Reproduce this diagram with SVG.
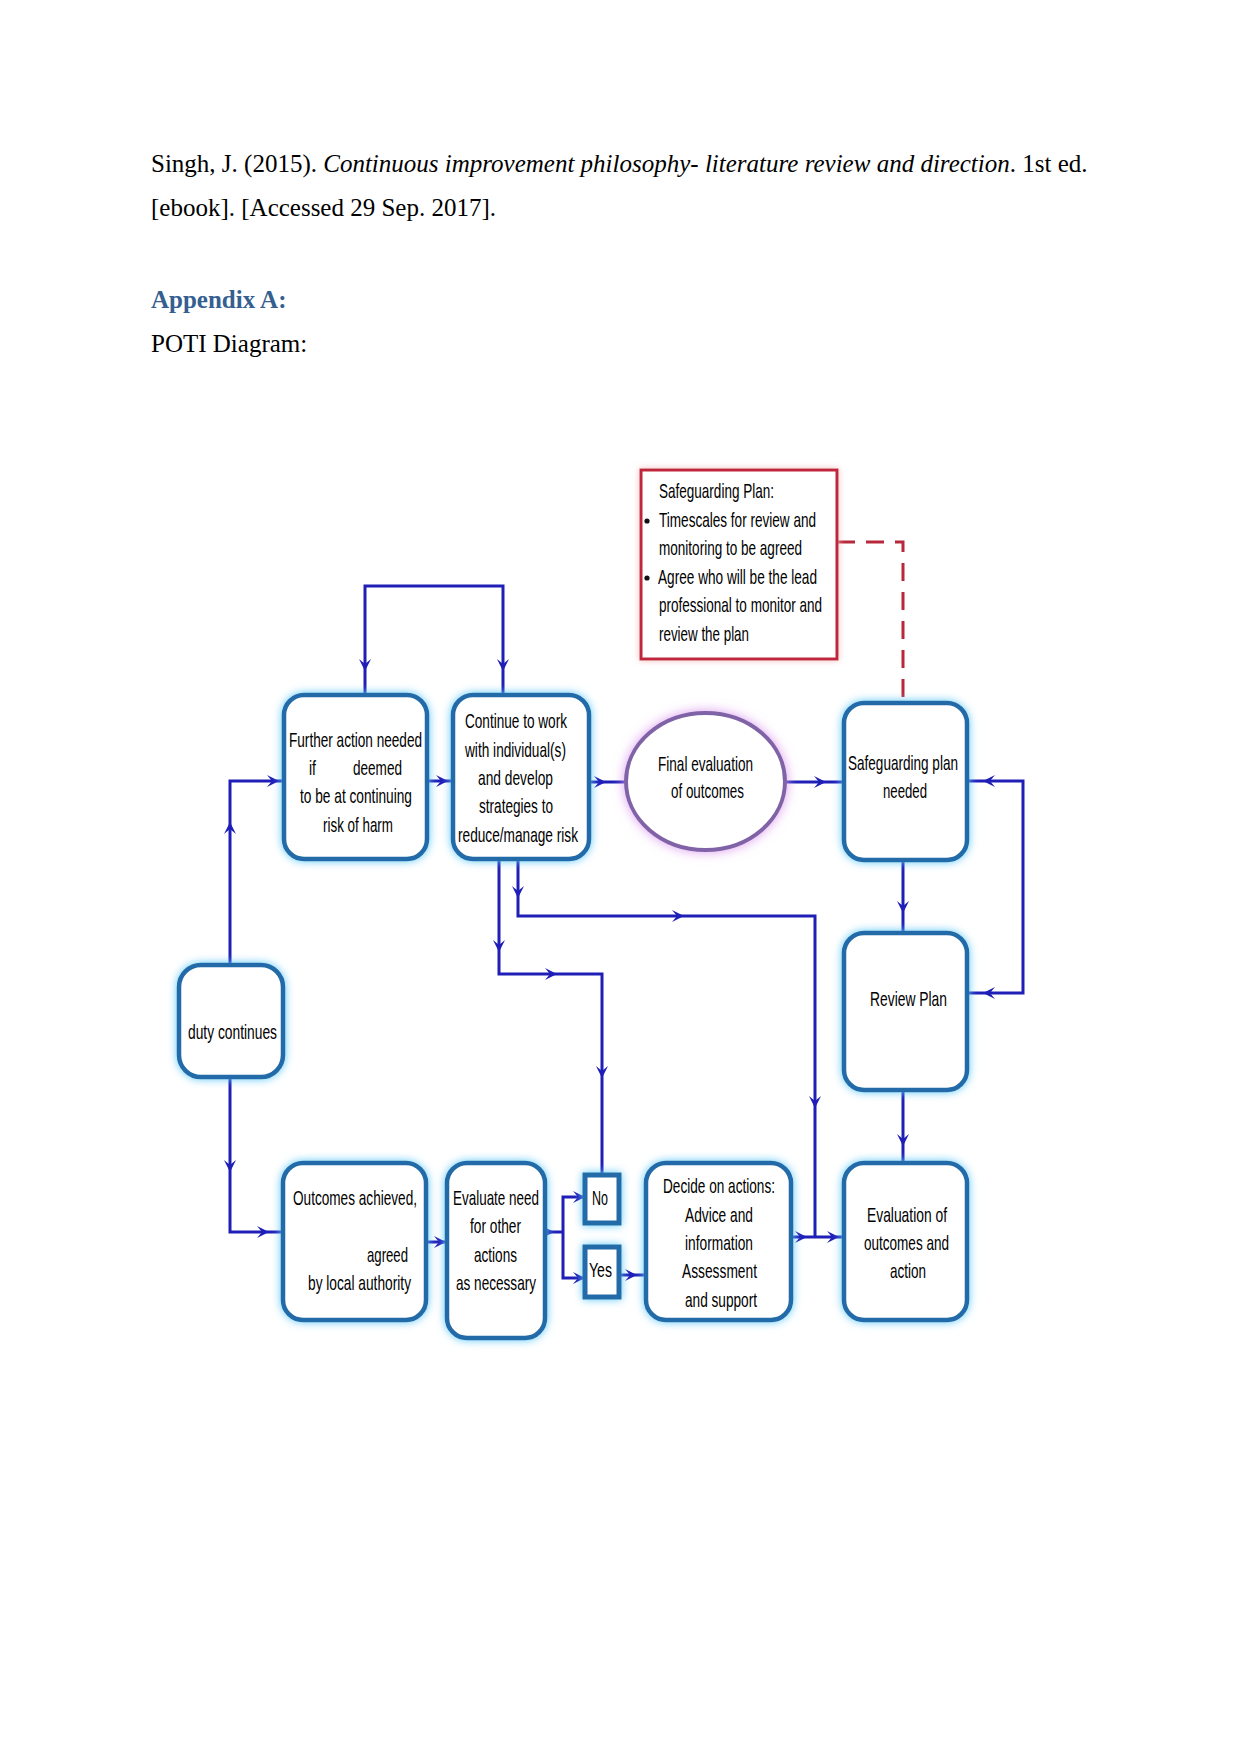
<svg xmlns="http://www.w3.org/2000/svg" xmlns:xlink="http://www.w3.org/1999/xlink" width="1241" height="1754" viewBox="0 0 1241 1754">
<style>
.doc{font-family:"Liberation Serif","Times New Roman",serif;font-size:25px;fill:#000}
.hd{font-family:"Liberation Serif","Times New Roman",serif;font-size:25px;font-weight:bold;fill:#365f91}
.t{font-family:"Liberation Sans",Arial,sans-serif;font-size:21px;fill:#000}
.box{fill:#fff;stroke:#206aa8;stroke-width:4.5}
.sq{fill:#fff;stroke:#206aa8;stroke-width:5}
.ln{fill:none;stroke:#1f1fb8;stroke-width:3}
.ah{fill:#1f1fb8}
</style>
<defs>
<filter id="glow" x="-30%" y="-30%" width="160%" height="160%">
<feGaussianBlur in="SourceAlpha" stdDeviation="4" result="b"/>
<feFlood flood-color="#5cc8f8" result="c"/>
<feComposite in="c" in2="b" operator="in" result="g"/>
<feMerge><feMergeNode in="g"/><feMergeNode in="SourceGraphic"/></feMerge>
</filter>
<filter id="pglow" x="-30%" y="-30%" width="160%" height="160%">
<feGaussianBlur in="SourceAlpha" stdDeviation="6" result="b"/>
<feFlood flood-color="#dc9cf0" result="c"/>
<feComposite in="c" in2="b" operator="in" result="g"/>
<feMerge><feMergeNode in="g"/><feMergeNode in="SourceGraphic"/></feMerge>
</filter>
<filter id="rglow" x="-20%" y="-20%" width="140%" height="140%">
<feGaussianBlur in="SourceAlpha" stdDeviation="3" result="b"/>
<feFlood flood-color="#f4b8bc" result="c"/>
<feComposite in="c" in2="b" operator="in" result="g"/>
<feMerge><feMergeNode in="g"/><feMergeNode in="SourceGraphic"/></feMerge>
</filter>
<path id="ah" class="ah" d="M0,0 L-12,-6 L-7,0 L-12,6 Z"/>
</defs>
<rect width="1241" height="1754" fill="#fff"/>

<g id="document-text">
<text class="doc" x="151" y="172">Singh, J. (2015). <tspan font-style="italic">Continuous improvement philosophy- literature review and direction</tspan>. 1st ed.</text>
<text class="doc" x="151" y="216">[ebook]. [Accessed 29 Sep. 2017].</text>
<text class="hd" x="151" y="308">Appendix A:</text>
<text class="doc" x="151" y="352">POTI Diagram:</text>
</g>

<g id="connectors">
<path class="ln" d="M365,695 V586 H503 V695"/>
<use xlink:href="#ah" href="#ah" transform="translate(365,671) rotate(90)"/>
<use xlink:href="#ah" href="#ah" transform="translate(503,671) rotate(90)"/>
<path class="ln" d="M427,781 H453"/>
<use xlink:href="#ah" href="#ah" transform="translate(448,781)"/>
<path class="ln" d="M589,782 H626"/>
<use xlink:href="#ah" href="#ah" transform="translate(606,782)"/>
<path class="ln" d="M785,782 H844"/>
<use xlink:href="#ah" href="#ah" transform="translate(826,782)"/>
<path class="ln" d="M967,781 H1023 V993 H967"/>
<use xlink:href="#ah" href="#ah" transform="translate(983,781) rotate(180)"/>
<use xlink:href="#ah" href="#ah" transform="translate(983,993) rotate(180)"/>
<path class="ln" d="M903,860 V933"/>
<use xlink:href="#ah" href="#ah" transform="translate(903,913) rotate(90)"/>
<path class="ln" d="M903,1090 V1163"/>
<use xlink:href="#ah" href="#ah" transform="translate(903,1146) rotate(90)"/>
<path class="ln" d="M518,859 V916 H815 V1237"/>
<use xlink:href="#ah" href="#ah" transform="translate(518,898) rotate(90)"/>
<use xlink:href="#ah" href="#ah" transform="translate(684,916)"/>
<use xlink:href="#ah" href="#ah" transform="translate(815,1108) rotate(90)"/>
<path class="ln" d="M499,859 V974 H602 V1175"/>
<use xlink:href="#ah" href="#ah" transform="translate(499,952) rotate(90)"/>
<use xlink:href="#ah" href="#ah" transform="translate(557,974)"/>
<use xlink:href="#ah" href="#ah" transform="translate(602,1078) rotate(90)"/>
<path class="ln" d="M791,1237 H843"/>
<use xlink:href="#ah" href="#ah" transform="translate(807,1237)"/>
<use xlink:href="#ah" href="#ah" transform="translate(839,1237)"/>
<path class="ln" d="M230,965 V781 H284"/>
<use xlink:href="#ah" href="#ah" transform="translate(230,822) rotate(-90)"/>
<use xlink:href="#ah" href="#ah" transform="translate(279,781)"/>
<path class="ln" d="M230,1077 V1232 H283"/>
<use xlink:href="#ah" href="#ah" transform="translate(230,1172) rotate(90)"/>
<use xlink:href="#ah" href="#ah" transform="translate(269,1232)"/>
<path class="ln" d="M426,1242 H447"/>
<use xlink:href="#ah" href="#ah" transform="translate(446,1242)"/>
<path class="ln" d="M545,1232 H563"/>
<use xlink:href="#ah" href="#ah" transform="translate(554,1232)"/>
<path class="ln" d="M585,1197 H563 V1278 H585"/>
<use xlink:href="#ah" href="#ah" transform="translate(585,1197)"/>
<use xlink:href="#ah" href="#ah" transform="translate(585,1278)"/>
<path class="ln" d="M619,1275 H646"/>
<use xlink:href="#ah" href="#ah" transform="translate(637,1275)"/>
<path fill="none" stroke="#b8283a" stroke-width="3" stroke-dasharray="18,11" d="M837,542 H903 V703"/>
</g>

<g id="safeguarding-plan-note">
<rect x="641" y="470" width="196" height="189" fill="#fff" stroke="#c0283a" stroke-width="3" filter="url(#rglow)"/>
<circle cx="647" cy="521" r="2.6" fill="#111"/>
<circle cx="647" cy="578" r="2.6" fill="#111"/>
<text class="t" x="659" y="498" textLength="115" lengthAdjust="spacingAndGlyphs">Safeguarding Plan:</text>
<text class="t" x="659" y="527" textLength="157" lengthAdjust="spacingAndGlyphs">Timescales for review and</text>
<text class="t" x="659" y="555" textLength="143" lengthAdjust="spacingAndGlyphs">monitoring to be agreed</text>
<text class="t" x="658" y="584" textLength="159" lengthAdjust="spacingAndGlyphs">Agree who will be the lead</text>
<text class="t" x="659" y="612" textLength="163" lengthAdjust="spacingAndGlyphs">professional to monitor and</text>
<text class="t" x="659" y="641" textLength="90" lengthAdjust="spacingAndGlyphs">review the plan</text>
</g>

<g id="further-action">
<rect class="box" x="284" y="695" width="143" height="164" rx="20" filter="url(#glow)"/>
<text class="t" x="289" y="747" textLength="133" lengthAdjust="spacingAndGlyphs">Further action needed</text>
<text class="t" x="309" y="775" textLength="7" lengthAdjust="spacingAndGlyphs">if</text>
<text class="t" x="353" y="775" textLength="49" lengthAdjust="spacingAndGlyphs">deemed</text>
<text class="t" x="300" y="803" textLength="112" lengthAdjust="spacingAndGlyphs">to be at continuing</text>
<text class="t" x="323" y="832" textLength="70" lengthAdjust="spacingAndGlyphs">risk of harm</text>
</g>

<g id="continue-to-work">
<rect class="box" x="453" y="695" width="136" height="164" rx="20" filter="url(#glow)"/>
<text class="t" x="465" y="728" textLength="102" lengthAdjust="spacingAndGlyphs">Continue to work</text>
<text class="t" x="465" y="757" textLength="101" lengthAdjust="spacingAndGlyphs">with individual(s)</text>
<text class="t" x="478" y="785" textLength="75" lengthAdjust="spacingAndGlyphs">and develop</text>
<text class="t" x="479" y="813" textLength="74" lengthAdjust="spacingAndGlyphs">strategies to</text>
<text class="t" x="458" y="842" textLength="120" lengthAdjust="spacingAndGlyphs">reduce/manage risk</text>
</g>

<g id="final-evaluation">
<ellipse cx="705.5" cy="781.5" rx="79.5" ry="68.5" fill="#fff" stroke="#8064a6" stroke-width="4" filter="url(#pglow)"/>
<text class="t" x="658" y="771" textLength="95" lengthAdjust="spacingAndGlyphs">Final evaluation</text>
<text class="t" x="671" y="798" textLength="73" lengthAdjust="spacingAndGlyphs">of outcomes</text>
</g>

<g id="safeguarding-plan-needed">
<rect class="box" x="844" y="703" width="123" height="157" rx="20" filter="url(#glow)"/>
<text class="t" x="848" y="770" textLength="110" lengthAdjust="spacingAndGlyphs">Safeguarding plan</text>
<text class="t" x="883" y="798" textLength="44" lengthAdjust="spacingAndGlyphs">needed</text>
</g>

<g id="review-plan">
<rect class="box" x="844" y="933" width="123" height="157" rx="20" filter="url(#glow)"/>
<text class="t" x="870" y="1006" textLength="77" lengthAdjust="spacingAndGlyphs">Review Plan</text>
</g>

<g id="evaluation-of-outcomes">
<rect class="box" x="844" y="1163" width="123" height="157" rx="20" filter="url(#glow)"/>
<text class="t" x="867" y="1222" textLength="80" lengthAdjust="spacingAndGlyphs">Evaluation of</text>
<text class="t" x="864" y="1250" textLength="85" lengthAdjust="spacingAndGlyphs">outcomes and</text>
<text class="t" x="890" y="1278" textLength="36" lengthAdjust="spacingAndGlyphs">action</text>
</g>

<g id="decide-on-actions">
<rect class="box" x="646" y="1163" width="145" height="157" rx="20" filter="url(#glow)"/>
<text class="t" x="663" y="1193" textLength="112" lengthAdjust="spacingAndGlyphs">Decide on actions:</text>
<text class="t" x="685" y="1222" textLength="68" lengthAdjust="spacingAndGlyphs">Advice and</text>
<text class="t" x="685" y="1250" textLength="68" lengthAdjust="spacingAndGlyphs">information</text>
<text class="t" x="682" y="1278" textLength="75" lengthAdjust="spacingAndGlyphs">Assessment</text>
<text class="t" x="685" y="1307" textLength="72" lengthAdjust="spacingAndGlyphs">and support</text>
</g>

<g id="duty-continues">
<rect class="box" x="179" y="965" width="104" height="112" rx="22" filter="url(#glow)"/>
<text class="t" x="188" y="1039" textLength="89" lengthAdjust="spacingAndGlyphs">duty continues</text>
</g>

<g id="outcomes-achieved">
<rect class="box" x="283" y="1163" width="143" height="157" rx="20" filter="url(#glow)"/>
<text class="t" x="293" y="1205" textLength="124" lengthAdjust="spacingAndGlyphs">Outcomes achieved,</text>
<text class="t" x="367" y="1262" textLength="41" lengthAdjust="spacingAndGlyphs">agreed</text>
<text class="t" x="308" y="1290" textLength="103" lengthAdjust="spacingAndGlyphs">by local authority</text>
</g>

<g id="evaluate-need">
<rect class="box" x="447" y="1163" width="98" height="175" rx="20" filter="url(#glow)"/>
<text class="t" x="453" y="1205" textLength="86" lengthAdjust="spacingAndGlyphs">Evaluate need</text>
<text class="t" x="470" y="1233" textLength="51" lengthAdjust="spacingAndGlyphs">for other</text>
<text class="t" x="474" y="1262" textLength="43" lengthAdjust="spacingAndGlyphs">actions</text>
<text class="t" x="456" y="1290" textLength="80" lengthAdjust="spacingAndGlyphs">as necessary</text>
</g>

<g id="no">
<rect class="sq" x="585" y="1175" width="34" height="48" filter="url(#glow)"/>
<text class="t" x="592" y="1205" textLength="16" lengthAdjust="spacingAndGlyphs">No</text>
</g>

<g id="yes">
<rect class="sq" x="585" y="1247" width="34" height="50" filter="url(#glow)"/>
<text class="t" x="589" y="1277" textLength="23" lengthAdjust="spacingAndGlyphs">Yes</text>
</g>
</svg>
